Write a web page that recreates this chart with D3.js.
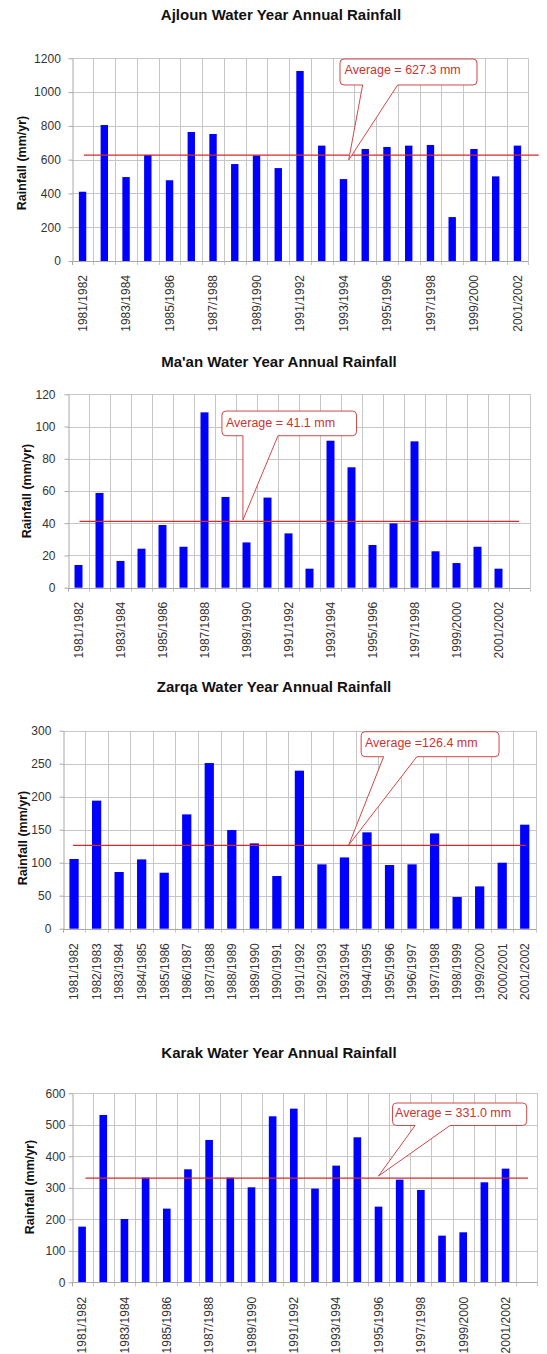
<!DOCTYPE html>
<html>
<head>
<meta charset="utf-8">
<script src="https://cdn.jsdelivr.net/npm/d3@7"></script>
<style>
  html, body { margin: 0; padding: 0; background: #ffffff; }
  svg { display: block; font-family: "Liberation Sans", Arial, Helvetica, sans-serif; }
</style>
</head>
<body>
<svg id="chart" width="547" height="1354"></svg>
<script>
// Water years shared by all four stations
const waterYears = [
  "1981/1982", "1982/1983", "1983/1984", "1984/1985", "1985/1986", "1986/1987",
  "1987/1988", "1988/1989", "1989/1990", "1990/1991", "1991/1992", "1992/1993",
  "1993/1994", "1994/1995", "1995/1996", "1996/1997", "1997/1998", "1998/1999",
  "1999/2000", "2000/2001", "2001/2002", "2002/2003"
];

// Annual rainfall per station (mm/yr)
const ajlounRainfall = [410, 805, 497, 628, 478, 764, 752, 574, 625, 550, 1125,
                        683, 485, 663, 675, 683, 687, 260, 663, 501, 683];
const maanRainfall   = [14.1, 58.8, 16.6, 24.2, 38.9, 25.4, 108.8, 56.3, 28.1, 55.9, 33.7,
                        11.8, 91.2, 74.7, 26.5, 39.9, 90.8, 22.6, 15.3, 25.4, 11.8];
const zarqaRainfall  = [105.6, 194, 85.9, 105, 84.8, 173.2, 251, 149.5, 129.3, 79.8, 239.4,
                        97.5, 108, 146, 96.5, 97.5, 144.4, 48, 64.1, 100, 157.6];
const karakRainfall  = [176.7, 531.2, 201, 332.3, 233.9, 358.7, 451.9, 332.3, 301.6, 527, 551.3,
                        297.4, 370.4, 460.3, 240.2, 325.9, 293.1, 148.1, 158.7, 317.5, 360.8];

// Long-term averages (mm)
const ajlounAverage = 627.3;
const maanAverage   = 41.1;
const zarqaAverage  = 126.4;
const karakAverage  = 331.0;

// Y-axis tick values
const ajlounTicks = [0, 200, 400, 600, 800, 1000, 1200];
const maanTicks   = [0, 20, 40, 60, 80, 100, 120];
const zarqaTicks  = [0, 50, 100, 150, 200, 250, 300];
const karakTicks  = [0, 100, 200, 300, 400, 500, 600];

// Panel layout. Callout geometry is in data units: x in category slots, y in mm.
const panels = [
  {
    title: "Ajloun Water Year Annual Rainfall", values: ajlounRainfall, ticks: ajlounTicks,
    average: ajlounAverage, avgPrefix: "Average = ", slots: 21, labelEvery: 2,
    box: { left: 71.7, right: 528.3, top: 58.3, bottom: 261 },
    titleX: 281, titleY: 19.5, yLabelX: 21.5, yLabelY: 163, tickGap: 11.7, xLabelGap: 14, barFrac: 0.34,
    avgSpan: [0.56, 21.48],
    callout: { x0: 12.34, x1: 18.64, y0: 1196, y1: 1042, tx: 12.55, ty: 1107, b1: 13.38, b2: 14.99, tipX: 12.74, tipY: 598 }
  },
  {
    title: "Ma'an Water Year Annual Rainfall", values: maanRainfall, ticks: maanTicks,
    average: maanAverage, avgPrefix: "Average = ", slots: 22, labelEvery: 2,
    box: { left: 68, right: 530, top: 394.3, bottom: 587.7 },
    titleX: 279, titleY: 366.7, yLabelX: 26, yLabelY: 491, tickGap: 13, xLabelGap: 14, barFrac: 0.38,
    avgSpan: [0.55, 21.48],
    callout: { x0: 7.33, x1: 13.74, y0: 109.6, y1: 94.3, tx: 7.52, ty: 99.9, b1: 8.33, b2: 10.0, tipX: 8.33, tipY: 42.0 }
  },
  {
    title: "Zarqa Water Year Annual Rainfall", values: zarqaRainfall, ticks: zarqaTicks,
    average: zarqaAverage, avgPrefix: "Average =", slots: 21, labelEvery: 1,
    box: { left: 62.8, right: 536, top: 730.7, bottom: 928.7 },
    titleX: 274, titleY: 691.7, yLabelX: 22.7, yLabelY: 838, tickGap: 12.2, xLabelGap: 14.5, barFrac: 0.41,
    avgSpan: [0.45, 20.56],
    callout: { x0: 13.24, x1: 19.36, y0: 298.5, y1: 260.6, tx: 13.41, ty: 275.8, b1: 14.24, b2: 15.71, tipX: 12.69, tipY: 126.8 }
  },
  {
    title: "Karak Water Year Annual Rainfall", values: karakRainfall, ticks: karakTicks,
    average: karakAverage, avgPrefix: "Average = ", slots: 22, labelEvery: 2,
    box: { left: 71.5, right: 537.3, top: 1093.3, bottom: 1282.3 },
    titleX: 279, titleY: 1058.3, yLabelX: 29.6, yLabelY: 1187, tickGap: 7, xLabelGap: 14.4, barFrac: 0.36,
    avgSpan: [0.66, 21.56],
    callout: { x0: 15.16, x1: 21.5, y0: 569.2, y1: 497.8, tx: 15.28, ty: 525.7, b1: 16.23, b2: 17.88, tipX: 14.5, tipY: 337.5 }
  }
];

const svg = d3.select("#chart");
const gridColor = "#c6c6c6";
const axisColor = "#a8a8a8";
const avgColor = "#d42a2a";
const half = v => Math.round(v) + 0.5;

function drawPanel(p) {
  const b = p.box;
  const g = svg.append("g");
  const cats = waterYears.slice(0, p.slots);

  const x = d3.scaleBand().domain(cats).range([b.left, b.right]).padding(0);
  const slot = d3.scaleLinear().domain([0, p.slots]).range([b.left, b.right]);
  const y = d3.scaleLinear().domain([0, d3.max(p.ticks)]).range([b.bottom, b.top]);

  // Horizontal gridlines
  g.append("g").selectAll("line")
    .data(p.ticks.filter(t => t > 0))
    .join("line")
    .attr("x1", b.left).attr("x2", b.right)
    .attr("y1", d => half(y(d))).attr("y2", d => half(y(d)))
    .attr("stroke", gridColor).attr("stroke-width", 1);

  // Vertical gridlines at category edges, continuing below the axis as tick marks
  g.append("g").selectAll("line")
    .data(d3.range(1, p.slots + 1))
    .join("line")
    .attr("x1", d => half(slot(d))).attr("x2", d => half(slot(d)))
    .attr("y1", b.top).attr("y2", b.bottom + 4)
    .attr("stroke", gridColor).attr("stroke-width", 1);

  // Value axis
  const yAxis = d3.axisLeft(y)
    .tickValues(p.ticks)
    .tickFormat(d3.format("d"))
    .tickSizeInner(4).tickSizeOuter(0)
    .tickPadding(p.tickGap - 4);
  const ya = g.append("g")
    .attr("transform", `translate(${half(b.left)},0)`)
    .call(yAxis);
  ya.select(".domain").attr("stroke", axisColor);
  ya.selectAll(".tick line").attr("stroke", axisColor);
  ya.selectAll(".tick text")
    .attr("fill", "#333333")
    .style("font-size", "12px")
    .style("font-family", "\"Liberation Sans\", Arial, sans-serif");

  // Bars
  const bw = x.bandwidth() * p.barFrac;
  g.append("g").selectAll("rect")
    .data(p.values.map((v, i) => ({ cat: cats[i], v })))
    .join("rect")
    .attr("x", d => x(d.cat) + (x.bandwidth() - bw) / 2)
    .attr("y", d => y(d.v))
    .attr("width", bw)
    .attr("height", d => y(0) - y(d.v))
    .attr("fill", "#0000ff");

  // Category axis line and first tick
  g.append("line")
    .attr("x1", b.left).attr("x2", b.right)
    .attr("y1", half(y(0))).attr("y2", half(y(0)))
    .attr("stroke", axisColor);
  g.append("line")
    .attr("x1", half(b.left)).attr("x2", half(b.left))
    .attr("y1", b.bottom).attr("y2", b.bottom + 4)
    .attr("stroke", axisColor);

  // Category labels, rotated
  g.append("g").selectAll("text")
    .data(cats.filter((d, i) => i % p.labelEvery === 0))
    .join("text")
    .attr("transform", d => `translate(${x(d) + x.bandwidth() / 2},${b.bottom + p.xLabelGap}) rotate(-90)`)
    .attr("text-anchor", "end")
    .attr("dy", "0.36em")
    .attr("fill", "#333333")
    .style("font-size", "12px")
    .text(d => d);

  // Average line
  g.append("line")
    .attr("x1", slot(p.avgSpan[0])).attr("x2", slot(p.avgSpan[1]))
    .attr("y1", y(p.average)).attr("y2", y(p.average))
    .attr("stroke", avgColor).attr("stroke-width", 1.2);

  // Callout bubble pointing at the average line
  const c = p.callout;
  const X0 = slot(c.x0), X1 = slot(c.x1), Y0 = y(c.y0), Y1 = y(c.y1), r = 4;
  const path = d3.path();
  path.moveTo(X0 + r, Y0);
  path.lineTo(X1 - r, Y0);
  path.arcTo(X1, Y0, X1, Y0 + r, r);
  path.lineTo(X1, Y1 - r);
  path.arcTo(X1, Y1, X1 - r, Y1, r);
  path.lineTo(slot(c.b2), Y1);
  path.lineTo(slot(c.tipX), y(c.tipY));
  path.lineTo(slot(c.b1), Y1);
  path.lineTo(X0 + r, Y1);
  path.arcTo(X0, Y1, X0, Y1 - r, r);
  path.lineTo(X0, Y0 + r);
  path.arcTo(X0, Y0, X0 + r, Y0, r);
  path.closePath();
  g.append("path")
    .attr("d", path.toString())
    .attr("fill", "#ffffff")
    .attr("stroke", "#d04848")
    .attr("stroke-width", 1);
  g.append("text")
    .attr("x", slot(c.tx)).attr("y", y(c.ty))
    .attr("fill", "#cc3333")
    .style("font-size", "12.5px")
    .style("white-space", "pre")
    .text(p.avgPrefix + d3.format(".1f")(p.average) + " mm");

  // Axis title
  g.append("text")
    .attr("transform", `translate(${p.yLabelX},${p.yLabelY}) rotate(-90)`)
    .attr("text-anchor", "middle")
    .attr("dy", "0.36em")
    .attr("fill", "#111111")
    .style("font-size", "12.5px")
    .style("font-weight", "bold")
    .text("Rainfall (mm/yr)");

  // Chart title
  g.append("text")
    .attr("x", p.titleX).attr("y", p.titleY)
    .attr("text-anchor", "middle")
    .attr("fill", "#111111")
    .style("font-size", "15px")
    .style("font-weight", "bold")
    .text(p.title);
}

panels.forEach(drawPanel);
</script>
</body>
</html>
